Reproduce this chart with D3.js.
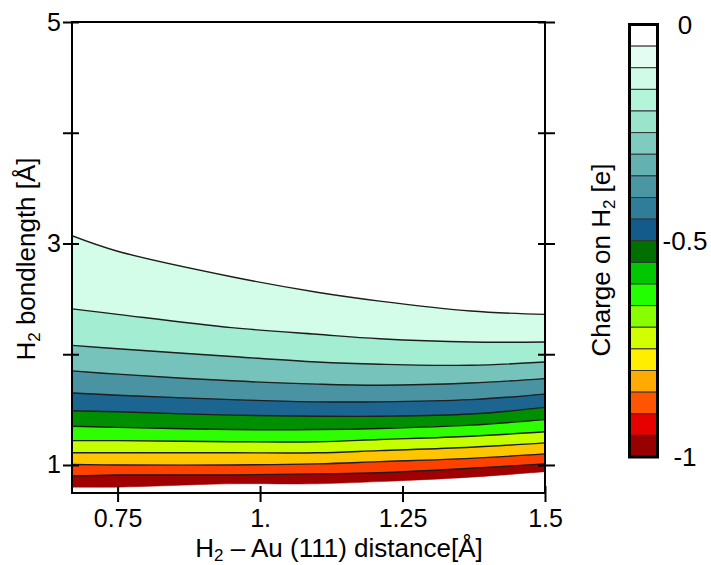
<!DOCTYPE html>
<html>
<head>
<meta charset="utf-8">
<script src="https://cdn.jsdelivr.net/npm/d3@7"></script>
<style>
    body { margin: 0; background: #fff; }
    text { font-family: "Liberation Sans", Arial, sans-serif; }
</style>
</head>
<body>
<div id="chart"></div>
<script>
// H2 - Au(111) distance grid [Å]
const distances = [0.67, 0.75, 0.95, 1.1, 1.21, 1.37, 1.5];

// bondlength [Å] where each contour crosses the grid, top contour first.
// the last row is the lower edge of the computed region (no line drawn there)
const contours = [
    [3.07, 2.93, 2.70, 2.56, 2.48, 2.39, 2.36],
    [2.41, 2.36, 2.24, 2.18, 2.14, 2.11, 2.11],
    [2.08, 2.05, 1.98, 1.93, 1.91, 1.90, 1.93],
    [1.85, 1.82, 1.76, 1.73, 1.72, 1.74, 1.78],
    [1.65, 1.63, 1.59, 1.57, 1.57, 1.59, 1.64],
    [1.49, 1.48, 1.45, 1.44, 1.44, 1.46, 1.52],
    [1.35, 1.34, 1.32, 1.32, 1.33, 1.36, 1.41],
    [1.22, 1.22, 1.21, 1.21, 1.23, 1.26, 1.30],
    [1.11, 1.11, 1.11, 1.11, 1.13, 1.16, 1.20],
    [1.005, 1.0, 1.0, 1.01, 1.03, 1.06, 1.10],
    [0.90, 0.91, 0.91, 0.92, 0.93, 0.97, 1.01],
    [0.80, 0.80, 0.83, 0.83, 0.85, 0.89, 0.94]
];

// fill of the band below each contour
const bandColors = ["#d4fde9", "#a3edd3", "#76c3bb", "#4993a3", "#1c6590", "#008f00",
    "#2dff00", "#c6ff00", "#ffc600", "#ff4100", "#a00000"];

// colour bar, 0 at the top down to -1
const barColors = ["#ffffff", "#e4fdf2", "#d0fbe6", "#b4f4da", "#9ae4cc", "#80cbbf", "#63b2b1",
    "#4a97a3", "#2f7d98", "#135b8a", "#007100", "#00c800", "#22ff00", "#88ff00", "#d2ff00",
    "#ffee00", "#ffaa00", "#ff5500", "#e60000", "#990000"];
const barTicks = [0, -0.5, -1];
const barTickLabels = ["0", "-0.5", "-1"];

const xTicks = [0.75, 1, 1.25, 1.5];
const xTickLabels = ["0.75", "1.", "1.25", "1.5"];
const yTicks = [1, 2, 3, 4, 5];
const yTickLabels = ["1", "", "3", "", "5"];

const width = 711, height = 565;
const plot = {left: 72, right: 545, top: 22, bottom: 493};
const fontSize = 26, tickSize = 25, subSize = 17;

const svg = d3.select("#chart").append("svg")
    .attr("width", width)
    .attr("height", height);

const x = d3.scaleLinear()
    .domain([0.67, 1.5])
    .range([plot.left, plot.right]);

const y = d3.scaleLinear()
    .domain([0.747, 5])
    .range([plot.bottom, plot.top]);

svg.append("clipPath").attr("id", "clip")
    .append("rect")
    .attr("x", plot.left).attr("y", plot.top)
    .attr("width", plot.right - plot.left)
    .attr("height", plot.bottom - plot.top);

// bands between neighbouring contours
let bands = bandColors.map((c, i) => ({
    color: c,
    pts: distances.map((d, j) => ({x: d, hi: contours[i][j], lo: contours[i + 1][j]}))
}));

const curve = d3.curveCatmullRom.alpha(0.5);

const area = d3.area()
    .x(d => x(d.x))
    .y0(d => y(d.lo))
    .y1(d => y(d.hi))
    .curve(curve);

const line = d3.line()
    .x(d => x(d.x))
    .y(d => y(d.v))
    .curve(curve);

const g = svg.append("g").attr("clip-path", "url(#clip)");

g.selectAll("path.band")
    .data(bands)
    .join("path")
    .attr("class", "band")
    .attr("d", d => area(d.pts))
    .attr("fill", d => d.color)
    .attr("stroke", d => d.color)
    .attr("stroke-width", 0.5);

g.selectAll("path.contour")
    .data(contours.slice(0, contours.length - 1))
    .join("path")
    .attr("class", "contour")
    .attr("d", row => line(distances.map((d, j) => ({x: d, v: row[j]}))))
    .attr("fill", "none")
    .attr("stroke", "#1e1e1e")
    .attr("stroke-width", 1.4);

// frame
svg.append("rect")
    .attr("x", plot.left).attr("y", plot.top)
    .attr("width", plot.right - plot.left)
    .attr("height", plot.bottom - plot.top)
    .attr("fill", "none")
    .attr("stroke", "#000")
    .attr("stroke-width", 2);

// axes, ticks cross the frame
const xAxis = d3.axisBottom(x)
    .tickValues(xTicks)
    .tickFormat((d, i) => xTickLabels[i])
    .tickSizeInner(9).tickSizeOuter(0).tickPadding(7);

const yAxis = d3.axisLeft(y)
    .tickValues(yTicks)
    .tickFormat((d, i) => yTickLabels[i])
    .tickSizeInner(9).tickSizeOuter(0).tickPadding(2);

const yAxisRight = d3.axisRight(y)
    .tickValues(yTicks)
    .tickFormat("")
    .tickSizeInner(10).tickSizeOuter(0);

const xGroup = svg.append("g")
    .attr("transform", `translate(0,${plot.bottom})`)
    .call(xAxis);
xGroup.selectAll(".tick line").attr("y1", -7);

const yGroup = svg.append("g")
    .attr("transform", `translate(${plot.left},0)`)
    .call(yAxis);
yGroup.selectAll(".tick line").attr("x1", 7);

const yRGroup = svg.append("g")
    .attr("transform", `translate(${plot.right},0)`)
    .call(yAxisRight);
yRGroup.selectAll(".tick line").attr("x1", -7);

svg.selectAll(".domain").remove();
svg.selectAll(".tick line").attr("stroke", "#000").attr("stroke-width", 2);
svg.selectAll(".tick text")
    .attr("font-size", tickSize)
    .attr("fill", "#000")
    .attr("font-family", "Liberation Sans, Arial, sans-serif");

// axis titles
const xTitle = svg.append("text")
    .attr("x", 339).attr("y", 557)
    .attr("text-anchor", "middle")
    .attr("font-size", fontSize);
xTitle.append("tspan").text("H");
xTitle.append("tspan").text("2").attr("font-size", subSize).attr("dy", 4);
xTitle.append("tspan").text(" \u2013 Au (111) distance[\u00c5]").attr("dy", -4);

const yTitle = svg.append("text")
    .attr("transform", "translate(35,259) rotate(-90)")
    .attr("text-anchor", "middle")
    .attr("font-size", fontSize);
yTitle.append("tspan").text("H");
yTitle.append("tspan").text("2").attr("font-size", subSize).attr("dy", 5);
yTitle.append("tspan").text(" bondlength [\u00c5]").attr("dy", -5);

// colour bar
const bar = {left: 629.5, right: 657.5};
const c = d3.scaleLinear()
    .domain([-1, 0])
    .range([457, 24.5]);
const step = 1 / barColors.length;

svg.append("g")
    .selectAll("rect")
    .data(barColors)
    .join("rect")
    .attr("x", bar.left)
    .attr("width", bar.right - bar.left)
    .attr("y", (d, i) => c(-i * step))
    .attr("height", (d, i) => c(-(i + 1) * step) - c(-i * step))
    .attr("fill", d => d)
    .attr("stroke", "#333")
    .attr("stroke-width", 1);

svg.append("rect")
    .attr("x", bar.left).attr("y", c(0))
    .attr("width", bar.right - bar.left)
    .attr("height", c(-1) - c(0))
    .attr("fill", "none")
    .attr("stroke", "#000")
    .attr("stroke-width", 3);

svg.append("g")
    .selectAll("text")
    .data(barTicks)
    .join("text")
    .attr("x", 685)
    .attr("y", d => c(d))
    .attr("dy", "0.35em")
    .attr("text-anchor", "middle")
    .attr("font-size", fontSize)
    .text((d, i) => barTickLabels[i]);

const cTitle = svg.append("text")
    .attr("transform", "translate(610,260) rotate(-90)")
    .attr("text-anchor", "middle")
    .attr("font-size", fontSize);
cTitle.append("tspan").text("Charge on H");
cTitle.append("tspan").text("2").attr("font-size", subSize).attr("dy", 5);
cTitle.append("tspan").text(" [e]").attr("dy", -5);
</script>
</body>
</html>
